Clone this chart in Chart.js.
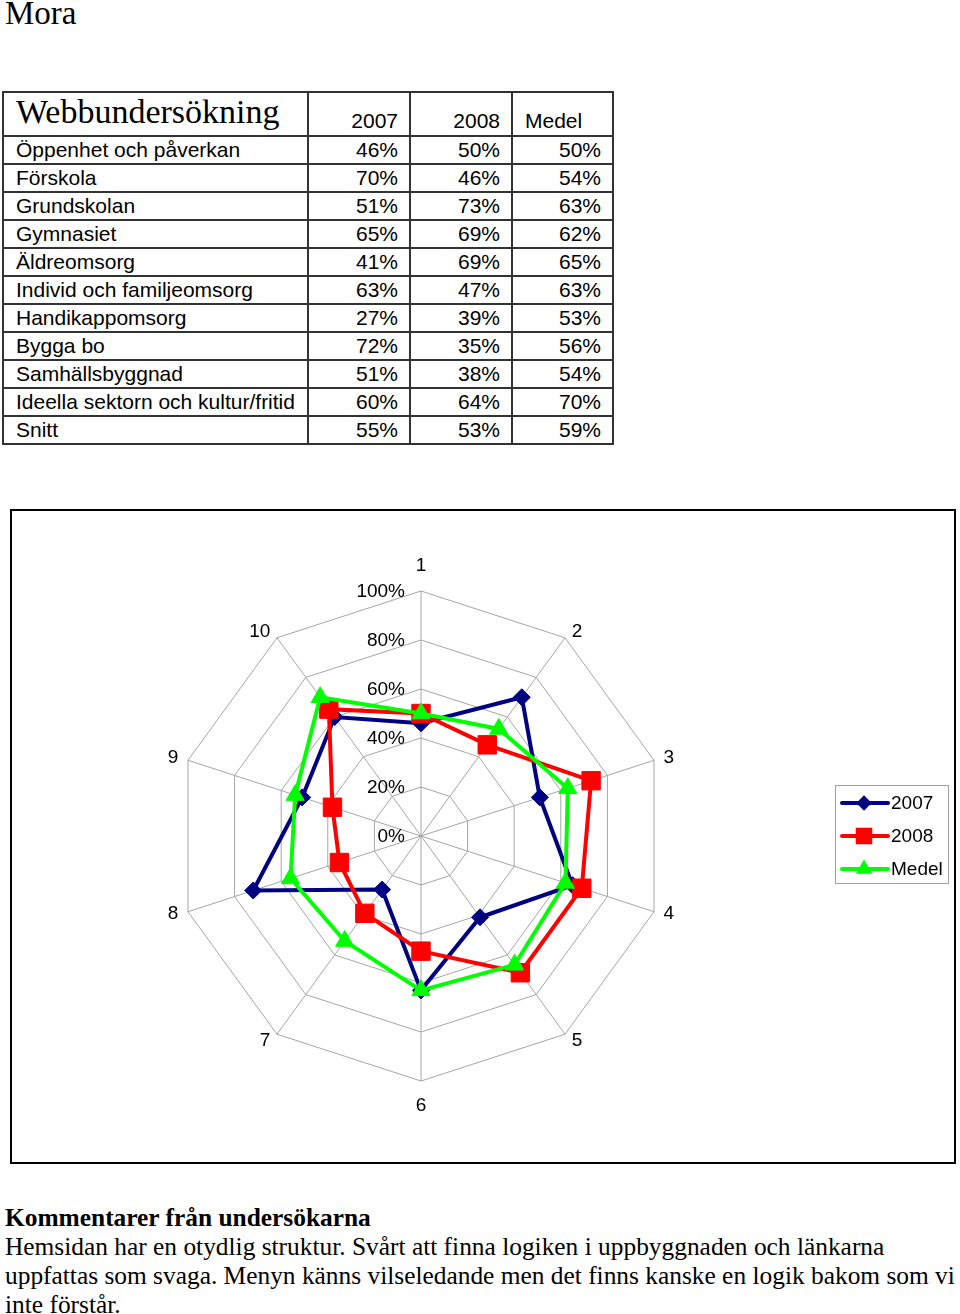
<!DOCTYPE html>
<html>
<head>
<meta charset="utf-8">
<script src="https://cdn.jsdelivr.net/npm/chart.js@4.4.0/dist/chart.umd.min.js"></script>
<style>
  body { margin: 0; background: #fff; width: 960px; height: 1314px; position: relative; overflow: hidden; }
  #titel { position: absolute; left: 5px; top: -5px; font: 33px "Liberation Serif", "Times New Roman", serif; }
  table { position: absolute; left: 2px; top: 91px; border-collapse: collapse; table-layout: fixed; font: 21px "Liberation Sans", Arial, sans-serif; }
  td { border: 2px solid #333; height: 26px; padding: 0 11px 0 12px; line-height: 24px; white-space: nowrap; }
  td.num { text-align: right; }
  tr.head td { height: 42px; vertical-align: bottom; padding-bottom: 0; line-height: 28px; }
  tr.head td.rubrik { font: 34px "Liberation Serif", "Times New Roman", serif; line-height: 38px; vertical-align: top; }
  #ruta { position: absolute; left: 10px; top: 509px; width: 946px; height: 655px; border: 2px solid #000; box-sizing: border-box; }
  #ruta canvas { position: absolute; left: 0; top: 0; }
  #komm { position: absolute; left: 5px; top: 1203px; font: 25.4px "Liberation Serif", "Times New Roman", serif; line-height: 29px; white-space: nowrap; }
  #komm b { font-weight: bold; }
</style>
</head>
<body>
<div id="titel">Mora</div>
<table id="tabell"></table>
<div id="ruta"><canvas id="radarChart" width="942" height="651"></canvas></div>
<div id="komm">
  <b>Kommentarer från undersökarna</b><br>
  Hemsidan har en otydlig struktur. Svårt att finna logiken i uppbyggnaden och länkarna<br>
  uppfattas som svaga. Menyn känns vilseledande men det finns kanske en logik bakom som vi<br>
  inte förstår.
</div>

<script>
// ============================================================================
// DATA
// ============================================================================
const kategorier = [
  "Öppenhet och påverkan",
  "Förskola",
  "Grundskolan",
  "Gymnasiet",
  "Äldreomsorg",
  "Individ och familjeomsorg",
  "Handikappomsorg",
  "Bygga bo",
  "Samhällsbyggnad",
  "Ideella sektorn och kultur/fritid",
];
const axelEtiketter = ["1", "2", "3", "4", "5", "6", "7", "8", "9", "10"];
const varden2007 = [46, 70, 51, 65, 41, 63, 27, 72, 51, 60];
const varden2008 = [50, 46, 73, 69, 69, 47, 39, 35, 38, 64];
const vardenMedel = [50, 54, 63, 62, 65, 63, 53, 56, 54, 70];
const snitt = [55, 53, 59];
const tickVarden = [0, 20, 40, 60, 80, 100];

// ============================================================================
// TABELL
// ============================================================================
const tabell = document.getElementById("tabell");
const colW = [305, 102, 102, 101];
let html = "<colgroup>" + colW.map((w) => `<col style="width:${w}px">`).join("") + "</colgroup>";
html += `<tr class="head"><td class="rubrik">Webbundersökning</td><td class="num">2007</td><td class="num">2008</td><td>Medel</td></tr>`;
kategorier.forEach((kat, i) => {
  html += `<tr><td>${kat}</td><td class="num">${varden2007[i]}%</td><td class="num">${varden2008[i]}%</td><td class="num">${vardenMedel[i]}%</td></tr>`;
});
html += `<tr><td>Snitt</td>${snitt.map((v) => `<td class="num">${v}%</td>`).join("")}</tr>`;
tabell.innerHTML = html;

// ============================================================================
// RADAR
// ============================================================================
const serier = [
  { label: "2007", data: varden2007, color: "#000080", style: "rectRot", radius: 8.5, order: 2 },
  { label: "2008", data: varden2008, color: "#FF0000", style: "rect", radius: 13, order: 1 },
  { label: "Medel", data: vardenMedel, color: "#00FF00", style: "triangle", radius: 10.5, order: 0 },
];

const textFont = '19px "Liberation Sans", Arial, sans-serif';

function ritaMarkor(ctx, style, x, y, r, color) {
  ctx.fillStyle = color;
  ctx.beginPath();
  if (style === "rectRot") {
    ctx.moveTo(x, y - r);
    ctx.lineTo(x + r, y);
    ctx.lineTo(x, y + r);
    ctx.lineTo(x - r, y);
  } else if (style === "rect") {
    const s = r * Math.SQRT1_2;
    ctx.rect(x - s, y - s, 2 * s, 2 * s);
  } else {
    ctx.moveTo(x, y - r);
    ctx.lineTo(x + r * 0.866, y + r * 0.5);
    ctx.lineTo(x - r * 0.866, y + r * 0.5);
  }
  ctx.closePath();
  ctx.fill();
}

// etiketter, procentsatser och legend
const etikettPlugin = {
  id: "etiketter",
  afterDraw(chart) {
    const ctx = chart.ctx;
    const scale = chart.scales.r;
    ctx.save();
    ctx.font = textFont;
    ctx.fillStyle = "#000";

    // procent
    ctx.textAlign = "right";
    ctx.textBaseline = "middle";
    tickVarden.forEach((v) => {
      const d = scale.getDistanceFromCenterForValue(v);
      ctx.fillText(v + "%", scale.xCenter - 16, scale.yCenter - d + 1);
    });

    // axelnummer
    axelEtiketter.forEach((lbl, i) => {
      const sin = Math.sin(scale.getIndexAngle(i));
      if (Math.abs(sin) < 0.01) {
        const p = scale.getPointPosition(i, scale.drawingArea + 25);
        ctx.textAlign = "center";
        ctx.fillText(lbl, p.x, p.y);
      } else {
        const p = scale.getPointPosition(i, scale.drawingArea + 8);
        ctx.textAlign = sin > 0 ? "left" : "right";
        ctx.fillText(lbl, p.x + (sin > 0 ? 2 : -2), p.y);
      }
    });

    // legend
    const lx = 823, ly = 274, lw = 113, lh = 98;
    ctx.strokeStyle = "#a0a0a0";
    ctx.lineWidth = 1;
    ctx.strokeRect(lx + 0.5, ly + 0.5, lw, lh);
    ctx.textAlign = "left";
    serier.forEach((s, i) => {
      const y = ly + 18 + i * 33;
      ctx.strokeStyle = s.color;
      ctx.lineWidth = 4;
      ctx.lineCap = "round";
      ctx.beginPath();
      ctx.moveTo(lx + 7, y);
      ctx.lineTo(lx + 53, y);
      ctx.stroke();
      ritaMarkor(ctx, s.style, lx + 29, y, s.radius * 0.9, s.color);
      ctx.fillStyle = "#000";
      ctx.fillText(s.label, lx + 56, y + 1);
    });
    ctx.restore();
  },
};

const ctx = document.getElementById("radarChart").getContext("2d");
new Chart(ctx, {
  type: "radar",
  data: {
    labels: axelEtiketter,
    datasets: serier.map((s) => ({
      label: s.label,
      data: s.data,
      borderColor: s.color,
      backgroundColor: s.color,
      borderWidth: 4,
      fill: false,
      tension: 0,
      pointStyle: s.style,
      pointRadius: s.radius,
      pointBackgroundColor: s.color,
      pointBorderColor: s.color,
      pointBorderWidth: 1,
      order: s.order,
    })),
  },
  options: {
    responsive: false,
    animation: false,
    layout: { padding: { left: 164, top: 80, right: 288, bottom: 81 } },
    plugins: {
      legend: { display: false },
      tooltip: { enabled: false },
    },
    scales: {
      r: {
        min: 0,
        max: 100,
        ticks: { display: false, stepSize: 20 },
        pointLabels: { display: false },
        grid: { color: "#a6a6a6", lineWidth: 1, circular: false },
        angleLines: { color: "#a6a6a6", lineWidth: 1 },
      },
    },
  },
  plugins: [etikettPlugin],
});
</script>
</body>
</html>
